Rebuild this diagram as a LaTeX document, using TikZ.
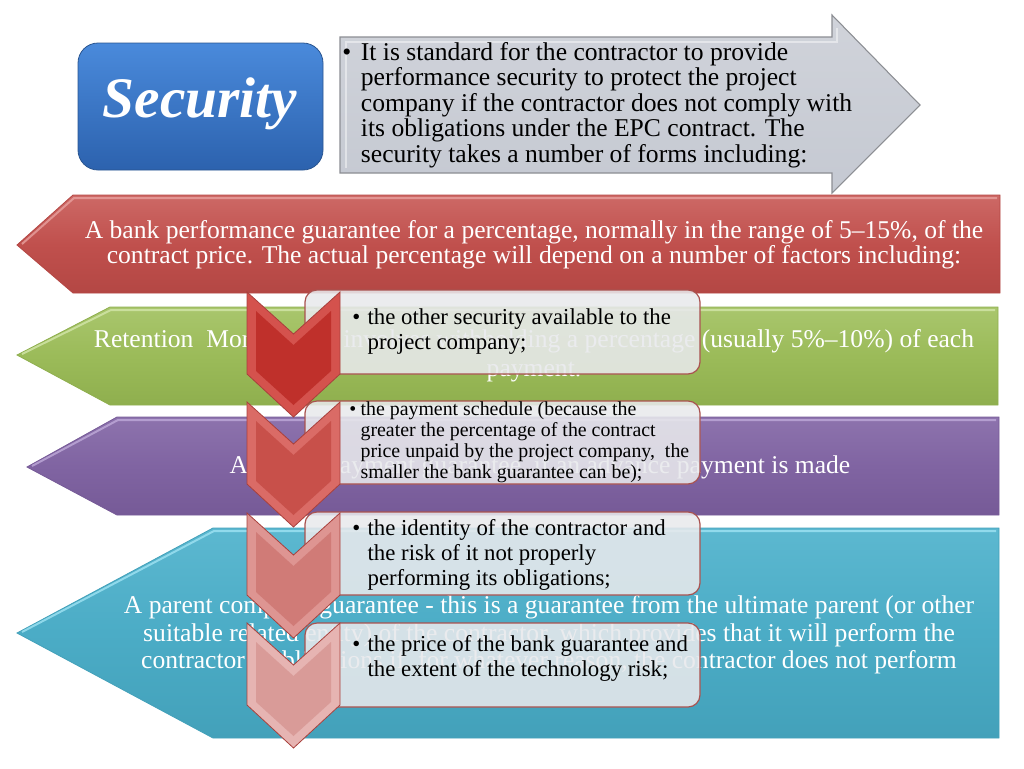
\documentclass[tikz,border=0pt]{standalone}
\usepackage{fontspec}
\setmainfont{Liberation Serif}
\definecolor{redA}{HTML}{C0504D}
\definecolor{redL}{HTML}{CD6966}
\definecolor{redD}{HTML}{B44744}
\definecolor{redH}{HTML}{E8A19F}
\definecolor{grnA}{HTML}{9BBB59}
\definecolor{grnL}{HTML}{A9C66D}
\definecolor{grnD}{HTML}{8FAF4E}
\definecolor{grnH}{HTML}{D3E6AA}
\definecolor{purA}{HTML}{8064A2}
\definecolor{purL}{HTML}{8D73AD}
\definecolor{purD}{HTML}{765A97}
\definecolor{purH}{HTML}{BFAAD9}
\definecolor{tealA}{HTML}{4BACC6}
\definecolor{tealL}{HTML}{5CB8D0}
\definecolor{tealD}{HTML}{43A1BA}
\definecolor{tealH}{HTML}{9FE3F3}
\definecolor{grayA}{HTML}{C5C9D2}
\definecolor{grayL}{HTML}{D0D3DA}
\definecolor{grayE}{HTML}{8C8E93}
\definecolor{blueT}{HTML}{4A8ADB}
\definecolor{blueB}{HTML}{2C62AE}
\definecolor{blueE}{HTML}{2A5590}
\definecolor{chA}{HTML}{BF302B}
\definecolor{chAl}{HTML}{D4524D}
\definecolor{chB}{HTML}{C8504A}
\definecolor{chBl}{HTML}{DA6B66}
\definecolor{chC}{HTML}{D07B77}
\definecolor{chCl}{HTML}{DE9592}
\definecolor{chD}{HTML}{D99B98}
\definecolor{chDl}{HTML}{E6B4B2}
\definecolor{chE}{HTML}{A8403C}
\definecolor{boxF}{HTML}{E8E9EC}
\definecolor{boxE}{HTML}{A9524F}
\tikzset{
  bandtext/.style={text=white, align=center, inner sep=0pt, font=\fontsize{19.2}{18.8}\selectfont},
  boxtext/.style={text=black, align=left, anchor=west, inner sep=0pt, font=\fontsize{17.1}{18.8}\selectfont},
  listbox/.style={fill=boxF, fill opacity=0.88, draw=boxE, line width=0.9pt, rounded corners=9pt},
}
\newcommand{\chev}[3]{%
  \fill[#2, draw=chE, line width=0.6pt] (247,#1) -- (293.5,#1+42) -- (340,#1) -- (340,#1+82) -- (293.5,#1+125) -- (247,#1+82) -- cycle;
  \fill[#3] (256,#1+19) -- (293.5,#1+53) -- (331,#1+19) -- (331,#1+79) -- (293.5,#1+113) -- (256,#1+79) -- cycle;
}
\newcommand{\bul}{\makebox[11.5pt][l]{\textbullet}}
\newcommand{\ind}{\hspace*{11.5pt}}
\begin{document}
\begin{tikzpicture}[x=0.75pt,y=-0.75pt]
\useasboundingbox (0,0) rectangle (1024,768);
% coloured bands
\path[draw=redD, line width=0.6pt, top color=redL, bottom color=redD, middle color=redA]
  (1000,195) -- (73,195) -- (17,245) -- (73,293) -- (1000,293) -- cycle;
\draw[redH, line width=1.5pt, opacity=0.8] (997,198) -- (74,198) -- (22,244);
\node[bandtext] (redtxt) at (534,245) {A bank performance guarantee for a percentage, normally in the range of 5–15\%, of the\\contract price. The actual percentage will depend on a number of factors including:};
\path[draw=grnD, line width=0.6pt, top color=grnL, bottom color=grnD, middle color=grnA]
  (998,307) -- (110,307) -- (17,355) -- (110,405) -- (998,405) -- cycle;
\draw[grnH, line width=1.5pt, opacity=0.8] (995,310) -- (111,310) -- (22,354);
\node[bandtext, font=\fontsize{19.2}{22}\selectfont] (grntxt) at (534,356) {Retention\ \ Money - this involves withholding a percentage (usually 5\%–10\%) of each\\payment.};
\path[draw=purD, line width=0.6pt, top color=purL, bottom color=purD, middle color=purA]
  (999,417) -- (117,417) -- (27,467) -- (117,515) -- (999,515) -- cycle;
\draw[purH, line width=1.5pt, opacity=0.8] (996,420) -- (118,420) -- (32,466);
\node[bandtext] (purtxt) at (540,467) {Advance payment guarantee, if an advance payment is made};
\path[draw=tealD, line width=0.6pt, top color=tealL, bottom color=tealD, middle color=tealA]
  (999,528) -- (213,528) -- (17,633) -- (213,738) -- (999,738) -- cycle;
\draw[tealH, line width=1.5pt, opacity=0.8] (996,531) -- (214,531) -- (22,632);
\node[bandtext, font=\fontsize{19.2}{20.6}\selectfont] (teatxt) at (549,635) {A parent company guarantee - this is a guarantee from the ultimate parent (or other\\suitable related entity) of the contractor, which provides that it will perform the\\contractor’s obligations if, for whatever reason, the contractor does not perform};
% grey arrow
\path[draw=grayE, line width=0.8pt, top color=grayL, bottom color=grayA]
  (340,37) -- (832,37) -- (832,15) -- (920,105) -- (832,193) -- (832,173) -- (340,173) -- cycle;
\draw[white, opacity=0.45, line width=1.2pt] (346,168) -- (346,42) -- (837,42) -- (837,28);
\node[anchor=west, align=left, inner sep=0pt, font=\fontsize{19.2}{19.2}\selectfont] (graytxt) at (342,105)
  {\makebox[14pt][l]{\textbullet}It is standard for the contractor to provide\\
   \hspace*{14pt}performance security to protect the project\\
   \hspace*{14pt}company if the contractor does not comply with\\
   \hspace*{14pt}its obligations under the EPC contract. The\\
   \hspace*{14pt}security takes a number of forms including:};
% Security box
\path[draw=blueE, line width=0.6pt, rounded corners=15pt, top color=blueT, bottom color=blueB]
  (78,43) rectangle (323,170);
\node[text=white, font=\fontsize{43}{48}\selectfont\bfseries\itshape, inner sep=0pt] (sectxt) at (200,104) {Security};
% list boxes
\path[listbox] (305,290) rectangle (700,374);
\node[boxtext] (b1) at (352,332) {\bul the other security available to the\\\ind project company;};
\path[listbox] (305,401) rectangle (700,484);
\node[boxtext, font=\fontsize{14.9}{15.8}\selectfont] (b2) at (349,442) {\makebox[8.5pt][l]{\textbullet}the payment schedule (because the\\\hspace*{8.5pt}greater the percentage of the contract\\\hspace*{8.5pt}price unpaid by the project company,\ \ the\\\hspace*{8.5pt}smaller the bank guarantee can be);};
\path[listbox] (305,512) rectangle (700,595);
\node[boxtext] (b3) at (352,555) {\bul the identity of the contractor and\\\ind the risk of it not properly\\\ind performing its obligations;};
\path[listbox] (305,623) rectangle (700,707);
\node[boxtext] (b4) at (352,658) {\bul the price of the bank guarantee and\\\ind the extent of the technology risk;};
% chevrons
\chev{292}{chAl}{chA}
\chev{402}{chBl}{chB}
\chev{513}{chCl}{chC}
\chev{623}{chDl}{chD}
\end{tikzpicture}
\end{document}
